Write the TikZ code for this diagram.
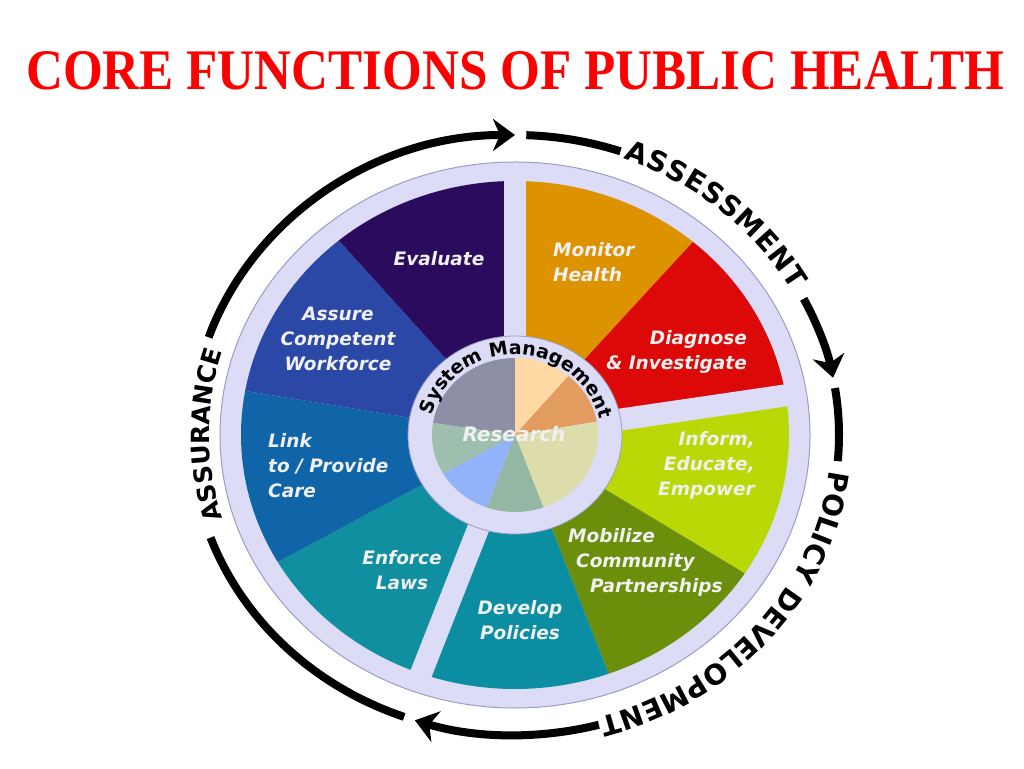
\documentclass[tikz,border=0pt]{standalone}
\usepackage{fontspec}
\setmainfont{Liberation Serif}
\setsansfont{DejaVu Sans}
\usetikzlibrary{arrows.meta,decorations.text}
\definecolor{ringfill}{HTML}{DCDCF6}
\definecolor{ringline}{HTML}{9C9CC4}
\definecolor{monitor}{HTML}{DD9300}
\definecolor{diagnose}{HTML}{DD0808}
\definecolor{inform}{HTML}{BAD806}
\definecolor{mobilize}{HTML}{6B8F0B}
\definecolor{develop}{HTML}{0C8EA2}
\definecolor{enforce}{HTML}{0F8F9F}
\definecolor{linkcare}{HTML}{1064A8}
\definecolor{assure}{HTML}{2B48A6}
\definecolor{evaluate}{HTML}{2A0B5E}
\definecolor{pgray}{HTML}{8D8FA6}
\definecolor{ppeach}{HTML}{FFD9A3}
\definecolor{ptan}{HTML}{E29C60}
\definecolor{pkhaki}{HTML}{DCDDAA}
\definecolor{psage}{HTML}{93B7A3}
\definecolor{pblue}{HTML}{92B2FA}
\definecolor{psagetwo}{HTML}{9EBFAE}
\newcommand\ringfont{\sffamily\bfseries\fontsize{28}{28}\selectfont}
\tikzset{
  fn/.style={font=\sffamily\bfseries\itshape\fontsize{18.5}{25}\selectfont, text=white!94!black, inner sep=0pt},
  cyc/.style={line width=8pt, black},
  cycarrow/.style={cyc, -{Stealth[length=22pt,width=32pt,inset=7pt]}},
  gapbar/.style={line width=22pt, ringfill},
}

\begin{document}
\begin{tikzpicture}[x=1pt, y=1pt, >=Stealth]
\useasboundingbox (0,0) rectangle (1024,768);
\node[anchor=base west, inner sep=0pt, text=red] (title) at (26,678)
  {\resizebox{978pt}{38pt}{\bfseries CORE FUNCTIONS OF PUBLIC HEALTH}};

\begin{scope}[shift={(515,333)}]
% wheel
\fill[ringfill, draw=ringline, line width=1pt] (0,0) ellipse [x radius=295, y radius=273];
\foreach \a/\b/\c in {90/49.5/monitor, 49.5/9/diagnose, 9/-33/inform, -33/-70/mobilize,
    -70/-110/develop, -110/-150/enforce, -150/-190/linkcare, 170/130/assure, 130/90/evaluate}
  \fill[\c] (0,0) -- (\a:274 and 254) arc[start angle=\a, end angle=\b, x radius=274, y radius=254] -- cycle;
\foreach \a in {90,9,-110}
  \draw[gapbar] (0,0) -- (\a:290 and 268);
\fill[ringfill, draw=ringline, line width=0.8pt] (0,0) ellipse [x radius=107, y radius=99];
\foreach \a/\b/\c in {90/171/pgray, 50/90/ppeach, 10/50/ptan, -70/10/pkhaki,
    -110/-70/psage, -150/-110/pblue, 171/210/psagetwo}
  \fill[\c] (0,0) -- (\a:83 and 77) arc[start angle=\a, end angle=\b, x radius=83, y radius=77] -- cycle;
\path[decorate, decoration={text along path, text align=fit to path,
    text={|\sffamily\bfseries\fontsize{19}{19}\selectfont|System Management}}]
  (166:86 and 80) arc[start angle=166, end angle=12, x radius=86, y radius=80];

% cycle arrows
\foreach \s/\e/\st in {161/90/cycarrow, 88/71/cyc, 27/11/cycarrow, 9/-5/cyc, -75/-108/cycarrow, -110/-160/cyc}
  \draw[\st] (\s:324 and 300) arc[start angle=\s, end angle=\e, x radius=324, y radius=300];
\path[decorate, decoration={text along path, text align=fit to path, text={|\ringfont|ASSESSMENT}}]
  (70:318 and 294) arc[start angle=70, end angle=29.5, x radius=318, y radius=294];
\path[decorate, decoration={text along path, text align=fit to path, text={|\ringfont|POLICY DEVELOPMENT}}]
  (-7:317 and 293) arc[start angle=-7, end angle=-73.5, x radius=317, y radius=293];
\path[decorate, decoration={text along path, text align=center,
    text={|\sffamily\bfseries\fontsize{25}{25}\selectfont|ASSURANCE}}]
  (200:306 and 283) arc[start angle=200, end angle=160, x radius=306, y radius=283];
\end{scope}

\node[fn, font=\sffamily\bfseries\itshape\fontsize{20}{20}\selectfont] (research) at (514,334) {Research};
\node[fn] (evaluate) at (439,509) {Evaluate};
\node[fn, align=center] (assure) at (338,429) {Assure\\Competent\\Workforce};
\node[fn, align=left, anchor=west] (link) at (268,302) {Link\\to / Provide\\Care};
\node[fn, align=center] (enforce) at (402,198) {Enforce\\Laws};
\node[fn, align=center] (develop) at (520,148) {Develop\\Policies};
\node[fn, align=left, anchor=west] (mobilize) at (568,206)
  {Mobilize\\\hspace*{8pt}Community\\\hspace*{22pt}Partnerships};
\node[fn, align=right, anchor=east] (inform) at (755,303) {Inform,\\Educate,\\Empower};
\node[fn, align=right, anchor=east] (diagnose) at (747,416) {Diagnose\\\& Investigate};
\node[fn, align=left, anchor=west] (monitor) at (553,506) {Monitor\\Health};
\end{tikzpicture}
\end{document}
